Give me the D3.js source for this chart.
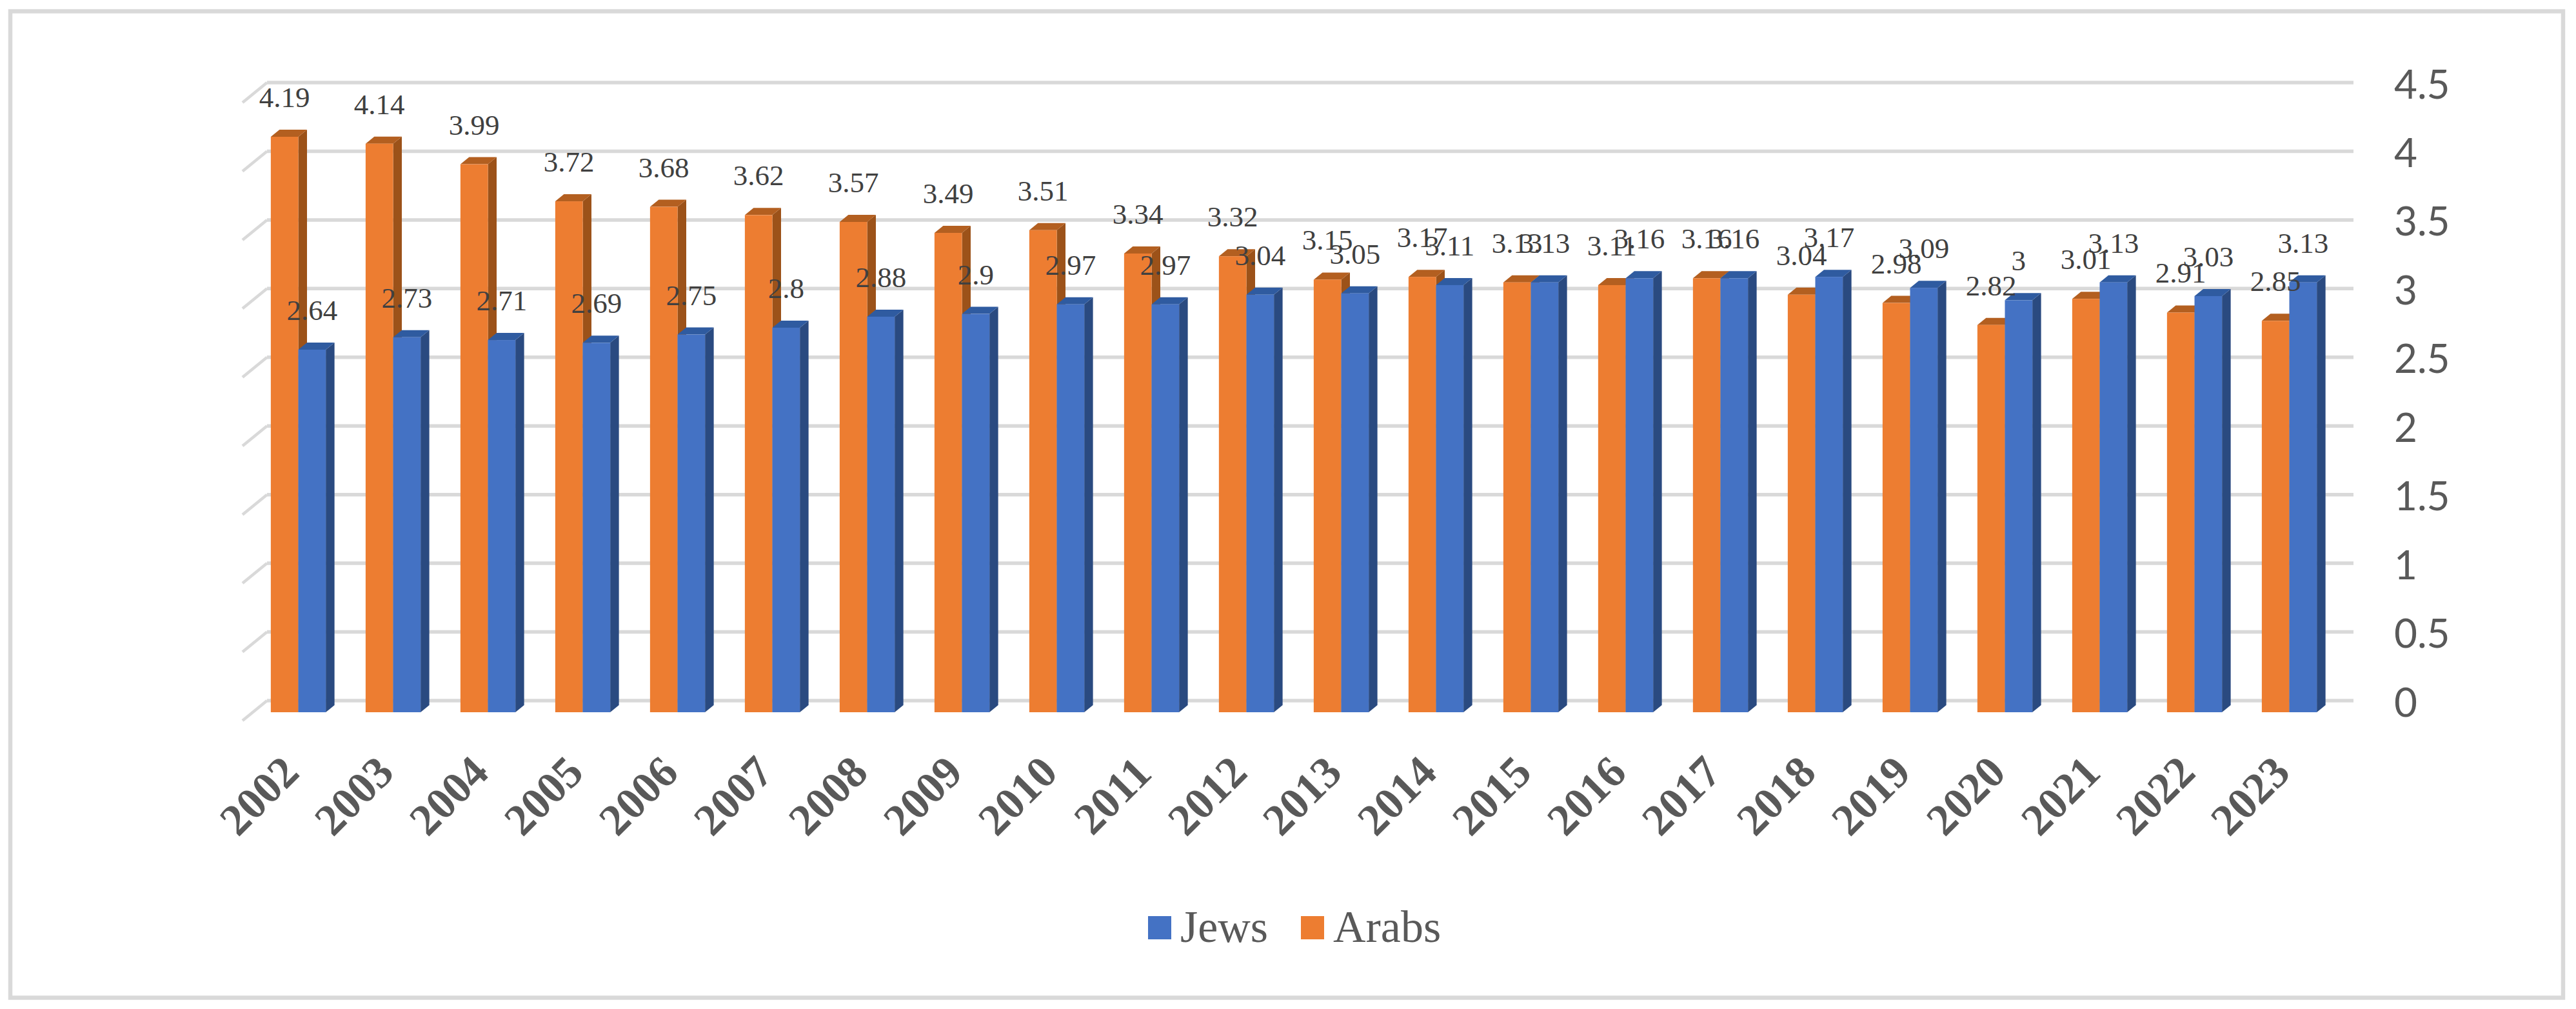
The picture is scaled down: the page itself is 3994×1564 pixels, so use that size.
<!DOCTYPE html>
<html>
<head>
<meta charset="utf-8">
<script src="https://cdn.jsdelivr.net/npm/d3@7"></script>
<style>
html,body{margin:0;padding:0;background:#fff;}
svg{display:block;}
</style>
</head>
<body>
<svg class="svg" width="3994" height="1564"></svg>
<script>
var years=["2002","2003","2004","2005","2006","2007","2008","2009","2010","2011","2012","2013","2014","2015","2016","2017","2018","2019","2020","2021","2022","2023"];
var arabs=[4.19,4.14,3.99,3.72,3.68,3.62,3.57,3.49,3.51,3.34,3.32,3.15,3.17,3.13,3.11,3.16,3.04,2.98,2.82,3.01,2.91,2.85];
var jews=[2.64,2.73,2.71,2.69,2.75,2.8,2.88,2.9,2.97,2.97,3.04,3.05,3.11,3.13,3.16,3.16,3.17,3.09,3,3.13,3.03,3.13];
var seriesNames=["Arabs","Jews"];
var yTicks=[0,0.5,1,1.5,2,2.5,3,3.5,4,4.5];

var colors={Arabs:{front:"#ED7D31",side:"#9C5219",top:"#B35F20"},Jews:{front:"#4472C4",side:"#2A4A80",top:"#2F5BA0"}};
var values={Arabs:arabs,Jews:jews};

var svg=d3.select(".svg");

// chart frame
svg.append("rect").attr("x",16).attr("y",17.5).attr("width",3958).attr("height",1529)
    .attr("fill","none").attr("stroke","#d9d9d9").attr("stroke-width",6.5);

// back wall scale and front of the bars scale
var yBack=d3.scaleLinear().domain([0,4.5]).range([1086,128]);
var yFront=d3.scaleLinear().domain([0,4.5]).range([1104,146]);
var x=d3.scaleBand().domain(years).range([389,3623]).paddingInner(0.42).paddingOuter(0.21);
var xs=d3.scaleBand().domain(seriesNames).range([0,x.bandwidth()]);
var depthX=13.5,depthY=11;

// gridlines
var grid=svg.append("g").attr("class","grid").attr("stroke","#d9d9d9").attr("fill","none");
grid.selectAll("line.h").data(yTicks).enter().append("line").attr("class","h")
    .attr("x1",414).attr("x2",3649)
    .attr("y1",function(d){return yBack(d);}).attr("y2",function(d){return yBack(d);})
    .attr("stroke-width",5.5);
grid.selectAll("line.d").data(yTicks).enter().append("line").attr("class","d")
    .attr("x1",414).attr("x2",376)
    .attr("y1",function(d){return yBack(d);}).attr("y2",function(d){return yBack(d)+31;})
    .attr("stroke-width",4.5);

// y axis on the right
var yAxis=d3.axisRight(yBack).tickValues(yTicks).tickSize(0).tickFormat(function(d){return String(d);});
var axisG=svg.append("g").attr("class","y-axis").call(yAxis);
axisG.select(".domain").remove();
axisG.selectAll("text").attr("x",3712).attr("dy",24)
    .attr("text-anchor","start")
    .style("font-family","Lato")
    .style("font-size","62px")
    .style("fill","#595959");

// bars, orange first so that blue sits over the orange side face
var bars=svg.append("g").attr("class","bars");
years.forEach(function(yr,i){
    seriesNames.forEach(function(s){
        var v=values[s][i];
        var x0=x(yr)+xs(s),w=xs.bandwidth();
        var yt=yFront(v),yb=yFront(0);
        var c=colors[s];
        bars.append("path")
            .attr("d","M"+(x0+w)+" "+yt+"L"+(x0+w+depthX)+" "+(yt-depthY)+"L"+(x0+w+depthX)+" "+(yb-depthY)+"L"+(x0+w)+" "+yb+"Z")
            .attr("fill",c.side);
        bars.append("path")
            .attr("d","M"+x0+" "+yt+"L"+(x0+depthX)+" "+(yt-depthY)+"L"+(x0+w+depthX)+" "+(yt-depthY)+"L"+(x0+w)+" "+yt+"Z")
            .attr("fill",c.top);
        bars.append("rect").attr("x",x0).attr("y",yt).attr("width",w).attr("height",yb-yt).attr("fill",c.front);
    });
});

// data labels, they collide around 2013-2017 in the original too
var labels=svg.append("g").attr("class","labels")
    .style("font-family","'Liberation Serif'").style("font-size","45px").style("fill","#404040");
years.forEach(function(yr,i){
    seriesNames.forEach(function(s){
        var v=values[s][i];
        labels.append("text")
            .attr("x",x(yr)+xs(s)+xs.bandwidth()/2)
            .attr("y",yFront(v)-46)
            .attr("text-anchor","middle")
            .text(String(v));
    });
});

// year labels
svg.append("g").attr("class","x-axis").selectAll("text").data(years).enter().append("text")
    .attr("transform",function(d){return "translate("+(x(d)+x.bandwidth()/2-61)+",1233) rotate(-45)";})
    .attr("text-anchor","middle").attr("dy","0.34em")
    .style("font-family","'Liberation Serif'").style("font-weight","bold").style("font-size","69px")
    .style("fill","#595959")
    .text(function(d){return d;});

// legend
var legendItems=[{name:"Jews",sx:1780},{name:"Arabs",sx:2017}];
var legend=svg.append("g").attr("class","legend");
legendItems.forEach(function(l){
    legend.append("rect").attr("x",l.sx).attr("y",1420).attr("width",36).attr("height",36).attr("fill",colors[l.name].front);
    legend.append("text").attr("x",l.sx+50).attr("y",1460).text(l.name)
        .style("font-family","'Liberation Serif'").style("font-size","70px").style("fill","#595959");
});
</script>
</body>
</html>
